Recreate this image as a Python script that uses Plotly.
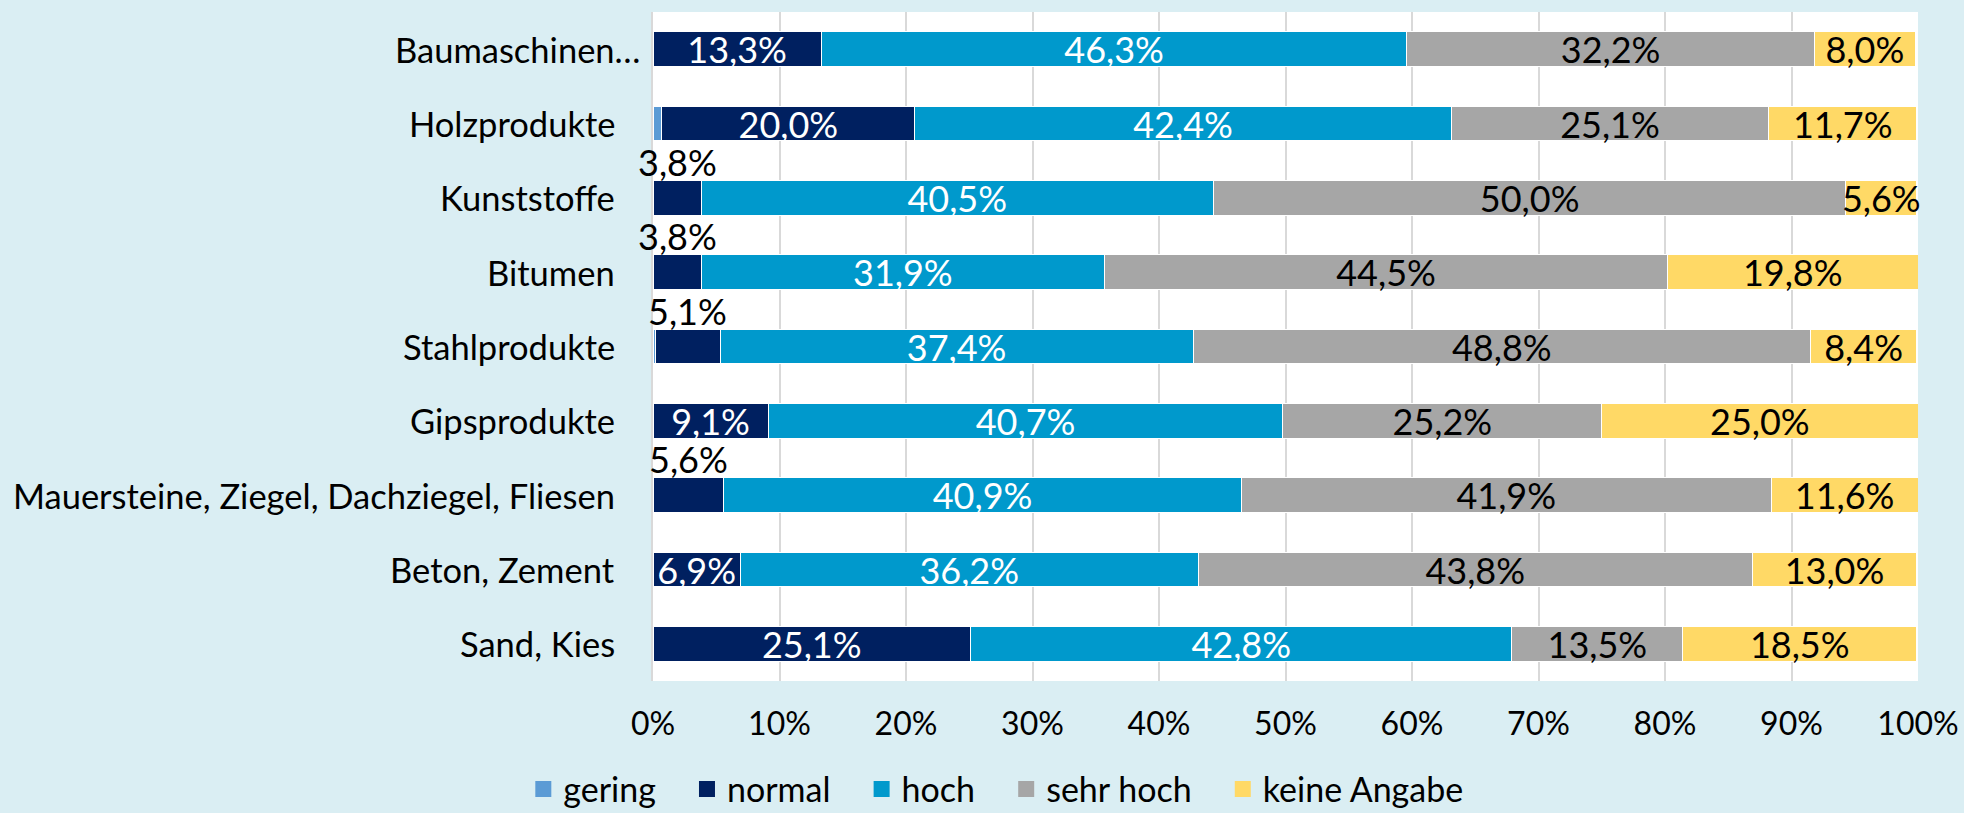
import plotly.graph_objects as go

categories = ["Baumaschinen…", "Holzprodukte", "Kunststoffe", "Bitumen", "Stahlprodukte",
              "Gipsprodukte", "Mauersteine, Ziegel, Dachziegel, Fliesen", "Beton, Zement", "Sand, Kies"]
series_names = ["gering", "normal", "hoch", "sehr hoch", "keine Angabe"]
gering = [0.0, 0.7, 0.0, 0.0, 0.2, 0.0, 0.0, 0.0, 0.0]
normal = [13.3, 20.0, 3.8, 3.8, 5.1, 9.1, 5.6, 6.9, 25.1]
hoch = [46.3, 42.4, 40.5, 31.9, 37.4, 40.7, 40.9, 36.2, 42.8]
sehr_hoch = [32.2, 25.1, 50.0, 44.5, 48.8, 25.2, 41.9, 43.8, 13.5]
keine_angabe = [8.0, 11.7, 5.6, 19.8, 8.4, 25.0, 11.6, 13.0, 18.5]
x_ticks = [0, 10, 20, 30, 40, 50, 60, 70, 80, 90, 100]
x_tick_labels = ["0%", "10%", "20%", "30%", "40%", "50%", "60%", "70%", "80%", "90%", "100%"]

colors = ["#5B9BD5", "#002060", "#0099CC", "#A6A6A6", "#FFD966"]
text_colors = ["white", "white", "white", "black", "black"]
FONT = "Lato"
LABEL_SIZE = 36

def fmt(v):
    return f"{v:.1f}".replace(".", ",") + "%"

# labels for small "normal" values are placed above the bar (as in the source)
small_normal = [v < 6 for v in normal]

fig = go.Figure()
all_series = [gering, normal, hoch, sehr_hoch, keine_angabe]
for i, (name, vals) in enumerate(zip(series_names, all_series)):
    if name == "gering":
        texts = ["" for _ in vals]
    elif name == "normal":
        texts = ["" if s else fmt(v) for v, s in zip(vals, small_normal)]
    else:
        texts = [fmt(v) for v in vals]
    fig.add_trace(go.Bar(
        y=categories, x=vals, name=name, orientation="h",
        marker=dict(color=colors[i], line=dict(color="white", width=1)),
        text=texts, textposition="inside", insidetextanchor="middle",
        textfont=dict(family=FONT, size=LABEL_SIZE, color=text_colors[i]),
        cliponaxis=False, showlegend=False,
    ))

# legend entries (square markers)
for i, name in enumerate(series_names):
    fig.add_trace(go.Scatter(
        x=[None], y=[None], mode="markers",
        name=name + ("" if i == len(series_names) - 1 else "\u00a0\u00a0\u00a0"),
        marker=dict(symbol="square", size=16, color=colors[i]),
        showlegend=True, hoverinfo="skip",
    ))

annotations = []
for cat, g, v, s in zip(categories, gering, normal, small_normal):
    if s:
        annotations.append(dict(
            x=g + v / 2, y=cat, xref="x", yref="y", text=fmt(v), showarrow=False,
            yshift=36, font=dict(family=FONT, size=LABEL_SIZE, color="black"),
        ))

for cat in categories:
    xr = -0.0087 if cat.endswith("…") else -0.0285
    annotations.append(dict(
        x=xr, y=cat, xref="paper", yref="y", text=cat, showarrow=False,
        xanchor="right", yanchor="middle", font=dict(family=FONT, size=34.5, color="black"),
    ))

fig.update_layout(
    width=1964, height=813,
    barmode="stack", bargap=0.53,
    separators=",.",
    paper_bgcolor="#DAEEF3", plot_bgcolor="white",
    margin=dict(l=653, r=46, t=12, b=132, autoexpand=False),
    font=dict(family=FONT, size=32, color="black"),
    uniformtext=dict(minsize=LABEL_SIZE, mode="show"),
    legend=dict(orientation="h", x=0.271, xanchor="center", y=-0.162, yanchor="middle",
                font=dict(family=FONT, size=34, color="black"), traceorder="normal",
                itemwidth=30, bgcolor="rgba(0,0,0,0)"),
    annotations=annotations,
    showlegend=True,
)
fig.update_xaxes(range=[0, 100], tickmode="array", tickvals=x_ticks, ticktext=x_tick_labels,
                 showgrid=True, gridcolor="#D9D9D9", gridwidth=2, zeroline=False,
                 tickfont=dict(family=FONT, size=32, color="black"), ticklabelstandoff=21)
fig.update_yaxes(autorange="reversed", showticklabels=False, showgrid=False,
                 showline=True, linecolor="#D9D9D9", linewidth=2)

fig.write_html("out.html", config={"displayModeBar": False},
               post_script="document.body.style.margin='0';")
